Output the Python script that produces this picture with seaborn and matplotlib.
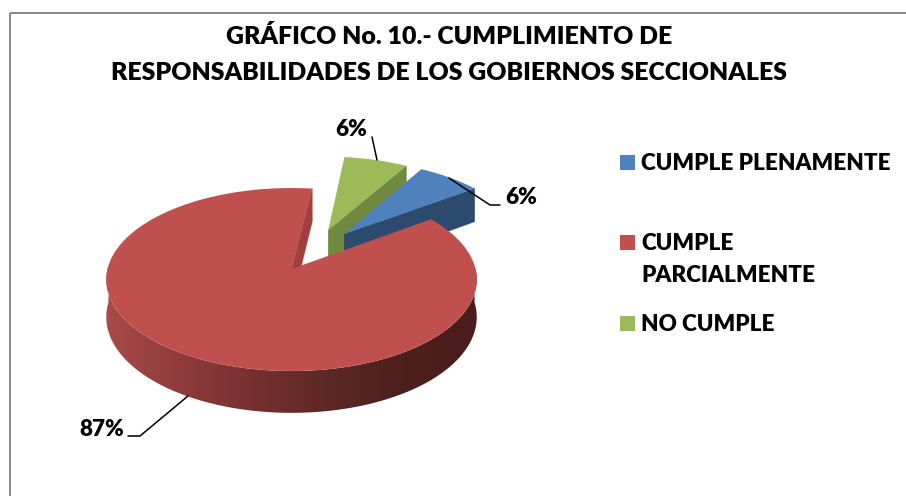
import numpy as np
import matplotlib
matplotlib.use('Agg')
import matplotlib.pyplot as plt
import seaborn as sns
from matplotlib.patches import Polygon, Rectangle
from matplotlib.transforms import Transform

# values
categories = ['CUMPLE PLENAMENTE', 'CUMPLE\nPARCIALMENTE', 'NO CUMPLE']
shares = [6.5, 87, 6.5]
value_labels = ['6%', '87%', '6%']
colors = ['#4f81bd', '#c0504d', '#9bbb59']
wall_colors = ['#2c4a6e', '#a03f3d', '#71893f']
rim_colors = ['#a84b48', '#8f3b3c', '#762f30', '#5c2825', '#4d1f1d', '#4a1d1c']

# camera of the 3d pie, in pixels
CX, CY, RX, RY, TILT, DEPTH = 291.5, 269, 184, 90.3, 0.115, 37
offsets = [(0.30, 0.406), (0, 0), (0.21, 0.454)]

LABEL_FONT = {'fontsize': 16.2, 'fontweight': 'heavy', 'color': 'black'}
TITLE_FONT = {'fontsize': 17.9, 'fontweight': 'heavy', 'color': 'black', 'ha': 'center', 'va': 'center'}


class PieView(Transform):
    input_dims = 2
    output_dims = 2

    def __init__(self, drop=0):
        super().__init__()
        self.drop = drop

    def transform_non_affine(self, values):
        values = np.asarray(values)
        w = 1 + TILT * values[:, 1]
        return np.column_stack([CX + RX * values[:, 0] / w,
                                CY + (self.drop - RY * values[:, 1]) / w])


def wall(theta, center, color, z):
    # flat cut face of an exploded slice
    t = np.radians(theta)
    pts = np.array([center, (center[0] + np.cos(t), center[1] + np.sin(t))])
    top = PieView().transform(pts)
    bottom = PieView(DEPTH).transform(pts)
    poly = np.vstack([top, bottom[::-1]])
    ax.fill(poly[:, 0], poly[:, 1], color=color, lw=0.3, zorder=z)


sns.set_theme(style='white')
plt.rcParams['font.family'] = ['Lato', 'DejaVu Sans']

fig = plt.figure(figsize=(9.06, 4.96), dpi=100)
ax = fig.add_axes([0, 0, 1, 1])
wedges, _ = ax.pie(shares, colors=colors, startangle=59.4, counterclock=False,
                   wedgeprops={'linewidth': 0})

for wedge, off, z in zip(wedges, offsets, [4, 7, 2]):
    wedge.set_center(off)
    wedge.set_transform(PieView() + ax.transData)
    wedge.set_zorder(z)

blue, red, green = wedges

# cut faces seen from the front
wall(green.theta1, offsets[2], wall_colors[2], 1)
wall(blue.theta1, offsets[0], wall_colors[0], 3)
wall(red.theta1, offsets[1], wall_colors[1], 5)

# red outer rim, shaded from left to right
angles = np.radians(np.linspace(red.theta1, red.theta2, 400))
angles = angles[np.sin(angles) < 0.05]
arc = np.column_stack([np.cos(angles), np.sin(angles)])
rim = np.vstack([PieView().transform(arc), PieView(DEPTH).transform(arc)[::-1]])
ramp = np.array(sns.blend_palette(rim_colors, n_colors=256))[:, :3][None, :, :]
shade = ax.imshow(ramp, extent=(rim[:, 0].min(), rim[:, 0].max(), 420, 260), aspect='auto', zorder=6)
shade.set_clip_path(Polygon(rim, transform=ax.transData))

ax.set_aspect('auto')
ax.set_xlim(0, 906)
ax.set_ylim(496, 0)
ax.axis('off')

# value labels and leader lines
ax.text(102, 429, value_labels[1], ha='center', va='center', **LABEL_FONT)
ax.plot([128, 140, 188], [436, 436, 396], color='black', lw=1.1, zorder=8)
ax.text(351, 130, value_labels[2], ha='center', va='center', **LABEL_FONT)
ax.plot([372, 377], [137, 160], color='black', lw=1.1, zorder=8)
ax.text(521, 198, value_labels[0], ha='center', va='center', **LABEL_FONT)
ax.plot([500, 490, 449], [205, 205, 178], color='black', lw=1.1, zorder=8)

# legend
for cat, col, y in zip(categories, colors, [155, 235, 316]):
    ax.add_patch(Rectangle((620, y), 15, 15, color=col, lw=0))
    ax.text(641, y - 2, cat, ha='left', va='top', linespacing=1.65, **LABEL_FONT)

ax.text(449, 36, 'GRÁFICO No. 10.- CUMPLIMIENTO DE', **TITLE_FONT)
ax.text(449, 73, 'RESPONSABILIDADES DE LOS GOBIERNOS SECCIONALES', **TITLE_FONT)

# chart frame
ax.add_patch(Rectangle((10, 13), 1000, 1000, fill=False, edgecolor='#868686', lw=1.4))

fig.savefig('out.png', dpi=100)
